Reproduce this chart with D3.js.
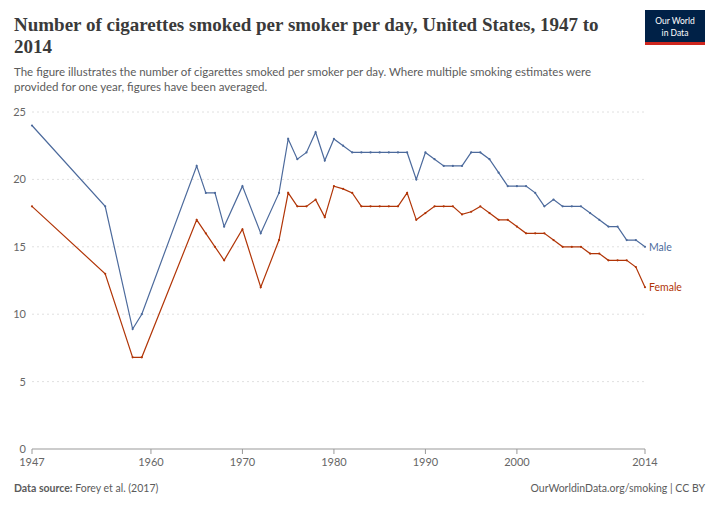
<!DOCTYPE html>
<html><head><meta charset="utf-8">
<script src="https://cdn.jsdelivr.net/npm/d3@7"></script>
<style>body{margin:0;background:#fff;font-family:Lato,sans-serif}</style>
</head><body>
<svg id="chart" width="720" height="507"></svg>
<script>
// data
var years = [1947,1955,1958,1959,1965,1966,1967,1968,1970,1972,1974,1975,1976,1977,1978,1979,1980,1981,1982,1983,1984,1985,1986,1987,1988,1989,1990,1991,1992,1993,1994,1995,1996,1997,1998,1999,2000,2001,2002,2003,2004,2005,2006,2007,2008,2009,2010,2011,2012,2013,2014];
var male = [24,18,8.9,10,21,19,19,16.5,19.5,16,19,23,21.5,22,23.5,21.4,23,22.5,22,22,22,22,22,22,22,20,22,21.5,21,21,21,22,22,21.5,20.5,19.5,19.5,19.5,19,18,18.5,18,18,18,17.5,17,16.5,16.5,15.5,15.5,15];
var female = [18,13,6.8,6.8,17,16,15,14,16.3,12,15.5,19,18,18,18.5,17.2,19.5,19.3,19,18,18,18,18,18,19,17,17.5,18,18,18,17.4,17.6,18,17.5,17,17,16.5,16,16,16,15.5,15,15,15,14.5,14.5,14,14,14,13.5,12];
var yTicks = [0,5,10,15,20,25];
var xTicks = [1947,1960,1970,1980,1990,2000,2014];

var svg = d3.select('#chart');
var x = d3.scaleLinear().domain([1947,2014]).range([32,645]);
var y = d3.scaleLinear().domain([0,25]).range([449,112]);

svg.append('text').attr('x',14).attr('y',31).attr('font-family','Liberation Serif, serif').attr('font-weight','bold')
  .attr('font-size',19).attr('fill','#3a3a3a').text('Number of cigarettes smoked per smoker per day, United States, 1947 to');
svg.append('text').attr('x',14).attr('y',53).attr('font-family','Liberation Serif, serif').attr('font-weight','bold')
  .attr('font-size',19).attr('fill','#3a3a3a').text('2014');
svg.append('text').attr('x',14).attr('y',76).attr('font-size',11.5).attr('fill','#5b5b5b')
  .text('The figure illustrates the number of cigarettes smoked per smoker per day. Where multiple smoking estimates were');
svg.append('text').attr('x',14).attr('y',91).attr('font-size',11.5).attr('fill','#5b5b5b')
  .text('provided for one year, figures have been averaged.');

// logo
svg.append('rect').attr('x',645).attr('y',10).attr('width',60).attr('height',34).attr('fill','#002147');
svg.append('rect').attr('x',645).attr('y',42).attr('width',60).attr('height',3).attr('fill','#ce261e');
svg.append('text').attr('x',675).attr('y',24).attr('text-anchor','middle').attr('font-size',8.5).attr('fill','#fff').text('Our World');
svg.append('text').attr('x',675).attr('y',36).attr('text-anchor','middle').attr('font-size',8.5).attr('fill','#fff').text('in Data');

// grid
yTicks.forEach(function (t) {
  svg.append('line').attr('x1',32).attr('x2',645).attr('y1',y(t)).attr('y2',y(t))
    .attr('stroke', t === 0 ? '#999' : '#e0e0e0').attr('stroke-dasharray', t === 0 ? null : '2,3');
  svg.append('text').attr('x',26).attr('y',y(t)+4).attr('text-anchor','end').attr('font-size',11).attr('fill','#666').text(t);
});
xTicks.forEach(function (t) {
  svg.append('line').attr('x1',x(t)).attr('x2',x(t)).attr('y1',449).attr('y2',454).attr('stroke','#999');
  svg.append('text').attr('x',x(t)).attr('y',466).attr('text-anchor','middle').attr('font-size',11).attr('fill','#666').text(t);
});

var series = [{name:'Male', v:male, c:'#4c6a9c'}, {name:'Female', v:female, c:'#b13507'}];
var line = d3.line().x(function (d) { return x(d[0]); }).y(function (d) { return y(d[1]); });
series.forEach(function (s) {
  var pts = years.map(function (yr, i) { return [yr, s.v[i]]; });
  svg.append('path').datum(pts).attr('d', line).attr('fill','none').attr('stroke', s.c).attr('stroke-width',1.2);
  svg.selectAll(null).data(pts).enter().append('circle')
    .attr('cx', function (d) { return x(d[0]); }).attr('cy', function (d) { return y(d[1]); })
    .attr('r',1.1).attr('fill', s.c);
  var last = pts[pts.length-1];
  svg.append('text').attr('x', x(last[0])+4).attr('y', y(last[1])+4).attr('font-size',10.5).attr('fill', s.c).text(s.name);
});

svg.append('text').attr('x',14).attr('y',492).attr('font-size',10.5).attr('fill','#5b5b5b')
  .html('<tspan font-weight="bold">Data source:</tspan> Forey et al. (2017)');
svg.append('text').attr('x',705).attr('y',492).attr('text-anchor','end').attr('font-size',10.5).attr('fill','#5b5b5b')
  .text('OurWorldinData.org/smoking | CC BY');
</script>
</body></html>
